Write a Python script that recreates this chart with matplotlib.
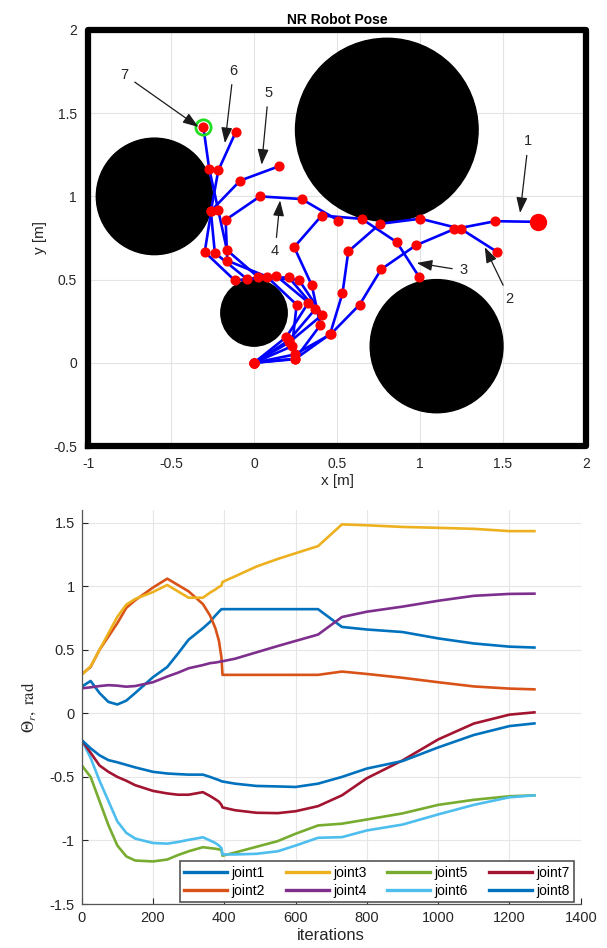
import numpy as np
import matplotlib
matplotlib.use('Agg')
import matplotlib.pyplot as plt
from matplotlib.patches import Circle
from matplotlib.ticker import FormatStrFormatter

plt.rcParams['font.family'] = ['Liberation Sans', 'DejaVu Sans']
plt.rcParams['axes.unicode_minus'] = False
plt.rcParams['mathtext.fontset'] = 'stix'

# ---- top: workspace, obstacles and arm snapshots ----
ws_x = [-1, 2]
ws_y = [-0.5, 2]

obst_x = [0.8, -0.6, 0.0, 1.1]
obst_y = [1.4, 1.0, 0.3, 0.1]
obst_r = [0.55, 0.35, 0.2, 0.4]

# joint positions of the 8-link arm at 7 snapshots (base first)
pose_x = [
    [0, 0.245, 0.461, 0.636, 0.766, 0.975, 1.205, 1.453, 1.708],
    [0, 0.247, 0.458, 0.533, 0.568, 0.759, 1.002, 1.246, 1.462],
    [0, 0.249, 0.400, 0.348, 0.242, 0.408, 0.649, 0.860, 0.996],
    [0, 0.229, 0.257, 0.077, -0.161, -0.171, 0.036, 0.287, 0.508],
    [0, 0.195, 0.328, 0.135, -0.116, -0.297, -0.257, -0.083, 0.153],
    [0, 0.210, 0.370, 0.209, -0.042, -0.236, -0.260, -0.215, -0.110],
    [0, 0.212, 0.411, 0.270, 0.026, -0.163, -0.216, -0.270, -0.305],
]
pose_y = [
    [0, 0.050, 0.171, 0.349, 0.562, 0.706, 0.803, 0.851, 0.847],
    [0, 0.022, 0.172, 0.418, 0.669, 0.835, 0.866, 0.805, 0.668],
    [0, 0.025, 0.227, 0.466, 0.695, 0.885, 0.865, 0.725, 0.514],
    [0, 0.100, 0.349, 0.518, 0.614, 0.859, 1.000, 0.984, 0.855],
    [0, 0.155, 0.362, 0.522, 0.495, 0.666, 0.915, 1.095, 1.182],
    [0, 0.135, 0.324, 0.514, 0.503, 0.661, 0.910, 1.156, 1.387],
    [0, 0.123, 0.288, 0.499, 0.514, 0.677, 0.920, 1.166, 1.415],
]
goal_x, goal_y = -0.305, 1.415

lab_txt = ['1', '2', '3', '4', '5', '6', '7']
lab_x = [1.653, 1.54, 1.26, 0.127, 0.087, -0.124, -0.78]
lab_y = [1.33, 0.385, 0.555, 0.67, 1.622, 1.755, 1.73]
tip_x = [1.603, 1.39, 0.98, 0.157, 0.046, -0.175, -0.335]
tip_y = [0.90, 0.695, 0.60, 0.976, 1.19, 1.32, 1.417]

# ---- bottom: joint angles ----
iters = [0, 25, 50, 75, 100, 125, 150, 200, 240, 270, 300, 340, 360, 375, 385,
         392, 395, 430, 490, 550, 600, 663, 730, 800, 900, 1000, 1100, 1200, 1270]
joint1 = [0.21, 0.255, 0.16, 0.09, 0.07, 0.10, 0.16, 0.285, 0.365, 0.47, 0.58, 0.67, 0.72, 0.77, 0.80,
          0.82, 0.82, 0.82, 0.82, 0.82, 0.82, 0.82, 0.68, 0.66, 0.64, 0.59, 0.55, 0.525, 0.518]
joint2 = [0.308, 0.365, 0.50, 0.605, 0.71, 0.83, 0.89, 0.99, 1.06, 1.01, 0.96, 0.86, 0.77, 0.67, 0.57,
          0.44, 0.303, 0.303, 0.303, 0.303, 0.303, 0.303, 0.329, 0.31, 0.28, 0.245, 0.212, 0.195, 0.189]
joint3 = [0.303, 0.37, 0.50, 0.63, 0.76, 0.855, 0.90, 0.955, 1.01, 0.96, 0.91, 0.91, 0.95, 0.975, 0.995,
          1.005, 1.034, 1.078, 1.155, 1.215, 1.26, 1.316, 1.487, 1.48, 1.467, 1.46, 1.452, 1.434, 1.434]
joint4 = [0.197, 0.205, 0.215, 0.222, 0.218, 0.21, 0.215, 0.245, 0.29, 0.32, 0.355, 0.38, 0.395, 0.40, 0.405,
          0.41, 0.41, 0.43, 0.48, 0.53, 0.57, 0.62, 0.758, 0.80, 0.84, 0.886, 0.925, 0.94, 0.942]
joint5 = [-0.408, -0.50, -0.69, -0.88, -1.04, -1.125, -1.158, -1.165, -1.15, -1.115, -1.085, -1.053, -1.06, -1.065, -1.07,
          -1.075, -1.12, -1.095, -1.05, -1.005, -0.947, -0.882, -0.868, -0.835, -0.787, -0.72, -0.68, -0.652, -0.645]
joint6 = [-0.21, -0.35, -0.53, -0.69, -0.85, -0.94, -0.985, -1.02, -1.025, -1.012, -0.995, -0.975, -1.0, -1.02, -1.04,
          -1.06, -1.11, -1.11, -1.105, -1.085, -1.04, -0.979, -0.974, -0.921, -0.875, -0.795, -0.72, -0.66, -0.645]
joint7 = [-0.21, -0.31, -0.41, -0.46, -0.50, -0.53, -0.565, -0.61, -0.63, -0.64, -0.64, -0.62, -0.65, -0.676, -0.695,
          -0.72, -0.74, -0.762, -0.782, -0.785, -0.77, -0.73, -0.645, -0.51, -0.37, -0.205, -0.08, -0.01, 0.008]
joint8 = [-0.21, -0.275, -0.33, -0.368, -0.385, -0.405, -0.425, -0.46, -0.473, -0.478, -0.482, -0.482, -0.50, -0.515, -0.525,
          -0.534, -0.536, -0.553, -0.571, -0.575, -0.579, -0.553, -0.50, -0.434, -0.375, -0.268, -0.17, -0.10, -0.079]
joints = [joint1, joint2, joint3, joint4, joint5, joint6, joint7, joint8]
joint_names = ['joint%d' % (i + 1) for i in range(8)]
joint_colors = ['#0072BD', '#D95319', '#EDB120', '#7E2F8E', '#77AC30', '#4DBEEE', '#A2142F', '#0072BD']

fig = plt.figure(figsize=(6.07, 9.48), dpi=100)
txt_col = '#262626'

# top panel
ax = fig.add_axes([0.145, 0.5295, 0.8204, 0.4389])
ax.set_xlim(ws_x)
ax.set_ylim(ws_y)
ax.grid(True, color='#e3e3e3', lw=0.8)
ax.set_axisbelow(True)
for cx, cy, r in zip(obst_x, obst_y, obst_r):
    ax.add_patch(Circle((cx, cy), r, color='black', zorder=2))
ax.plot([ws_x[0], ws_x[1], ws_x[1], ws_x[0], ws_x[0]],
        [ws_y[0], ws_y[0], ws_y[1], ws_y[1], ws_y[0]],
        color='black', lw=4.5, clip_on=False, zorder=5)
for px, py in zip(pose_x, pose_y):
    ax.plot(px, py, color='blue', lw=1.9, zorder=3)
for px, py in zip(pose_x, pose_y):
    ax.plot(px, py, 'o', color='red', ms=6.3, zorder=4)
ax.plot(goal_x, goal_y, 'o', mfc='none', mec='#22dd22', ms=11, mew=2, zorder=3.5)
ax.plot(pose_x[0][-1], pose_y[0][-1], 'o', color='red', ms=11.5, zorder=4)
for t, lx, ly, tx, ty in zip(lab_txt, lab_x, lab_y, tip_x, tip_y):
    ax.annotate(t, xy=(tx, ty), xytext=(lx, ly), fontsize=10.5, color=txt_col,
                ha='center', va='center', zorder=6,
                arrowprops=dict(arrowstyle='-|>,head_length=0.9,head_width=0.32',
                                color='#1a1a1a', lw=0.9, shrinkA=3, shrinkB=0))
for s in ax.spines.values():
    s.set_visible(False)
ax.set_xticks([-1, -0.5, 0, 0.5, 1, 1.5, 2])
ax.set_yticks([-0.5, 0, 0.5, 1, 1.5, 2])
ax.xaxis.set_major_formatter(FormatStrFormatter('%g'))
ax.yaxis.set_major_formatter(FormatStrFormatter('%g'))
ax.tick_params(length=0, labelsize=10, colors=txt_col, pad=8)
ax.set_title('NR Robot Pose', fontsize=10, fontweight='bold', color='black', pad=4)
ax.set_xlabel('x [m]', fontsize=11, color=txt_col, labelpad=2)
ax.set_ylabel('y [m]', fontsize=11, color=txt_col, labelpad=4)

# bottom panel
ax2 = fig.add_axes([0.1346, 0.0464, 0.8222, 0.4156])
for vals, name, col in zip(joints, joint_names, joint_colors):
    ax2.plot(iters, vals, color=col, lw=1.9, label=name)
ax2.set_xlim(0, 1400)
ax2.set_ylim(-1.5, 1.6)
ax2.set_xticks(range(0, 1401, 200))
ax2.set_yticks([-1.5, -1, -0.5, 0, 0.5, 1, 1.5])
ax2.yaxis.set_major_formatter(FormatStrFormatter('%g'))
ax2.grid(True, color='#e6e6e6', lw=0.8)
ax2.set_axisbelow(True)
ax2.spines['top'].set_visible(False)
ax2.spines['right'].set_visible(False)
for s in ['left', 'bottom']:
    ax2.spines[s].set_color('#555555')
    ax2.spines[s].set_linewidth(0.9)
ax2.tick_params(direction='in', length=4, labelsize=10.5, colors=txt_col, pad=5)
ax2.set_xlabel('iterations', fontsize=12, color=txt_col, labelpad=2)
ax2.set_ylabel(r'$\Theta_r,\ \mathrm{rad}$', fontsize=12, color=txt_col, labelpad=8)
leg = ax2.legend(ncol=4, loc='lower right', bbox_to_anchor=(0.987, 0.004),
                 borderaxespad=0, fontsize=10, handlelength=3.1, handletextpad=0.3,
                 columnspacing=1.5, labelspacing=0.25, borderpad=0.35,
                 fancybox=False, framealpha=1)
for h in leg.get_lines():
    h.set_linewidth(2.4)
leg.get_frame().set_edgecolor('#555555')
leg.get_frame().set_linewidth(1.2)

fig.savefig('out.png', dpi=100)
